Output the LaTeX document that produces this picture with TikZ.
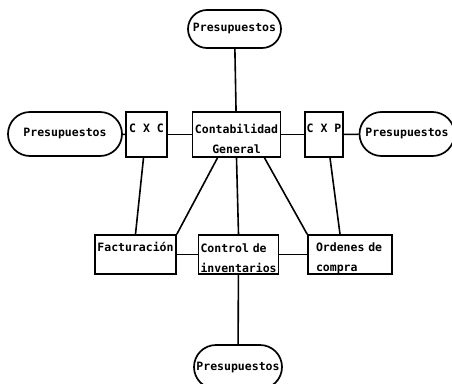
\documentclass[tikz,border=0pt]{standalone}
\usepackage{fontspec}
\setmainfont{DejaVu Sans Mono}
\usetikzlibrary{shapes.misc}
\begin{document}
\begin{tikzpicture}[x=1pt,y=-1pt,
    every node/.style={font=\bfseries\fontsize{11.5}{20}\selectfont, inner sep=0pt},
    pill/.style={draw, line width=1.7pt, rounded rectangle},
    box/.style={draw, line width=1.7pt, rectangle},
    link/.style={draw, line width=1.6pt},
    ]
\useasboundingbox (0,0) rectangle (452,383);
\node[pill, minimum width=93pt, minimum height=38pt] (presTop) at (234.5,29) {Presupuestos};
\node[pill, minimum width=114pt, minimum height=44pt] (presLeft) at (65,134) {Presupuestos};
\node[box, minimum width=41pt, minimum height=45pt] (cxc) at (146.5,134.5) {\rule[-13pt]{0pt}{13pt}C X C};
\node[box, minimum width=88pt, minimum height=45pt, align=center] (conta) at (236.5,134.5) {\rule{0pt}{18pt}Contabilidad\\General};
\node[box, minimum width=38pt, minimum height=45pt] (cxp) at (324,134.5) {\rule[-13pt]{0pt}{13pt}C X P};
\node[pill, minimum width=95pt, minimum height=44pt] (presRight) at (407,134) {Presupuestos};
\node[box, minimum width=81pt, minimum height=39pt] (factura) at (135.5,254.5) {\rule[-15pt]{0pt}{15pt}Facturación};
\node[box, minimum width=80pt, minimum height=39pt, text width=76pt, align=left] (inventario) at (238.5,254.5) {\rule{0pt}{16pt}Control de\\inventarios};
\node[box, minimum width=84pt, minimum height=39pt, text width=68pt, align=left] (ordenes) at (350,254.5) {\rule{0pt}{16pt}Ordenes de\\compra};
\node[pill, minimum width=88pt, minimum height=44pt] (presBottom) at (238,367) {Presupuestos};
\draw[link] (presTop) -- (conta);
\draw[link] (presLeft) -- (cxc);
\draw[link] (cxc) -- (conta);
\draw[link] (conta) -- (cxp);
\draw[link] (cxp) -- (presRight);
\draw[link] ([xshift=-3pt]cxc.south) -- (factura.north);
\draw[link] ([xshift=-19pt]conta.south) -- (factura.north east);
\draw[link] (conta.south) -- (inventario.north);
\draw[link] ([xshift=28pt]conta.south) -- (ordenes.north west);
\draw[link] ([xshift=6pt]cxp.south) -- ([xshift=-10pt]ordenes.north);
\draw[link] (factura) -- (inventario);
\draw[link] (inventario) -- (ordenes);
\draw[link] (inventario) -- (presBottom);
\end{tikzpicture}
\end{document}
